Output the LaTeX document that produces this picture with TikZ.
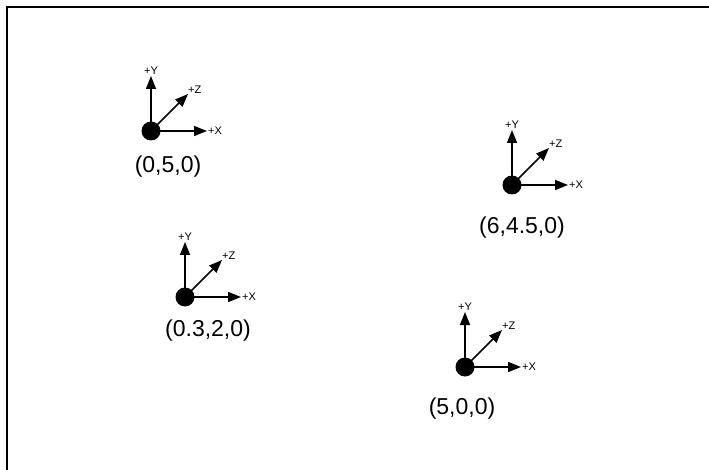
\documentclass[tikz,border=0pt]{standalone}
\usepackage{fontspec}
\setmainfont{Liberation Sans}
\usetikzlibrary{arrows.meta}
\tikzset{
  axis/.style={line width=1.5pt, -{Triangle[length=13pt,width=10pt]}},
  origin/.style={circle, fill=black, inner sep=0pt, minimum size=19pt},
  axlabel/.style={font=\fontsize{11}{12}\selectfont, inner sep=1pt},
  poslabel/.style={font=\fontsize{23}{26}\selectfont}
}
\begin{document}
\begin{tikzpicture}[x=1pt, y=-1pt]
  \useasboundingbox (0,0) rectangle (709,470);
  \draw[line width=2pt] (7,470) -- (7,7) -- (709,7);
  % one set of axes per point
  \foreach \n/\px/\py/\lx/\ly/\txt in {a/151/131/168/167/{(0,5,0)}, b/512/185/522/228/{(6,4.5,0)}, c/185/297/208/331/{(0.3,2,0)}, d/465/367/462/409/{(5,0,0)}} {
    \node[origin] (\n o) at (\px,\py) {};
    \coordinate (\n y) at (\px,\py-55);
    \coordinate (\n x) at (\px+56,\py);
    \coordinate (\n z) at (\px+37,\py-37);
    \draw[axis] (\n o.center) -- (\n y);
    \draw[axis] (\n o.center) -- (\n x);
    \draw[axis] (\n o.center) -- (\n z);
    \node[axlabel, above] (\n ly) at (\n y) {+Y};
    \node[axlabel, right] (\n lx) at (\n x) {+X};
    \node[axlabel, above right, inner sep=0pt] (\n lz) at (\n z) {+Z};
    \node[poslabel] (\n p) at (\lx,\ly) {\txt};
  }
\end{tikzpicture}
\end{document}
